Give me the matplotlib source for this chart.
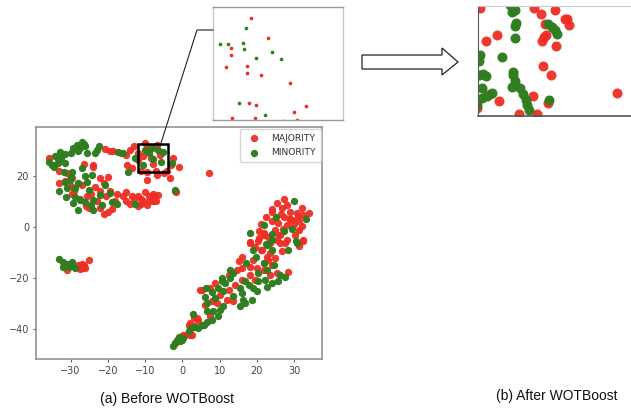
import matplotlib
matplotlib.use('Agg')
import matplotlib.pyplot as plt
from matplotlib.lines import Line2D
from matplotlib.patches import Polygon, Rectangle

RED = '#ee2e24'
GREEN = '#2f7d1f'
GRAY = '#8a8a8a'

# main scatter
major_x = [-35.7, -34.5, -33, -31, -29.5, -24, -20.7, -18.5, -19.5, -16.5, -15, -14, -13, -12, -10, -6.9, -9, -8,
           -14.9, -13.5, -12, -11, -9.5, -6.9, -3.3, -1, -2.4, -4, -7, -9.5, -5, -3, -6, -8.5, -10.5, -26.5, -24,
           -31.5, -30, -33, -29, -27, -25.5, -23.5, -22, -25, -27.5, -24.5, -29.5, -26, -22, -20, -23, -21, -19,
           -18, -20, -21, -22, -19.5, -17.5, -20.5, -16, -15, -13.5, -15, -12, -10.5, -9, -8, -7, -6.5, -11, -9.5,
           -12, -8, -10, -7.5, -11, -9, -13, -14, -2, -1.8,
           7.2,
           -30.9, -27, -26.1, -27.5, -25.2, -26.5, -28, -27,
           -2, 0.3, 0.6, 2.1, 1.7, 3, 4.3, 3.9, 2.1, 3.4, 2.5, 4.8, 7.5, 6.1, 7.9, 9.2, 11.9, 13.7, 10.1, 12.4,
           5.2, 7.5, 8.8, 14.2, 16, 19.5, 12.4, 14.6, 16, 18.2, 18.2, 15.1, 16, 19.1, 21.3, 22.7, 23.6, 26.7, 23.6,
           25.4, 28.5, 18.2, 20.4, 23.6, 26.3, 32.5, 31.2, 20.5, 21.8, 18.2, 20.5, 24.9, 26.3, 31.2, 30.3, 32.5,
           25.4, 27.6, 24, 25.8, 28, 32.1, 29.4, 31.2, 27.2, 24, 29, 30.7, 33.9, 32.5, 26.7, 25.4, 28, 27.2, 32.1,
           22, 23, 27, 29, 19.5, 21, 23, 25, 22, 24, 20, 22, 26, 28, 30, 24, 22.5, 21, 26.5, 29, 31]
major_y = [26.8, 24, 22, 21, 19, 23.5, 30.4, 29.7, 29.8, 29, 28, 30, 31.5, 29, 32.6, 32, 31, 24.5,
           24.2, 23, 26, 22, 18.3, 20.3, 19, 23.5, 26.8, 22, 22, 21.5, 21, 24, 28, 27, 27.5, 24.5, 24,
           18, 16, 17, 14, 16.5, 12, 15.5, 19, 7.5, 11, 13, 13, 8, 7.5, 6, 10, 5, 7,
           10, 19.5, 17, 14, 14, 13, 12, 12, 10, 12, 13.5, 12, 10, 12, 10, 10, 12.5, 9, 8.5, 8,
           13, 13.5, 12, 11, 10, 11, 9, 14.2, 13.8,
           21.1,
           -16.8, -14.4, -16.1, -16.5, -12.9, -15, -15, -16,
           -45.5, -42.1, -42.1, -42.1, -38.2, -35.6, -36.3, -35.6, -37.6, -38.9, -42.1, -24.6, -35, -30.4, -29.1, -29.8, -28.5, -29.1, -26.5, -24.6,
           -24.6, -23.9, -22, -22.6, -20.7, -20.7, -18.7, -16.8, -16.1, -15.5, -18.7, -13.5, -11.6, -12.9, -9, -11.6, -10.3, -9.6, -18.7,
           -18.1, -17.8, -6.4, -5.7, -6.4, -6.4, -5.7, -7.4, -1.8, -2.5, -6, -4.4, -1.2, -3.1, -1.2, -3.1, -5,
           -5, -6.4, 2.1, 1.5, 0.8, 0.2, 2.8, 2.1, 4, 5.7, 6, 5.4, 5.4, 4.7, 7.3, 9.3, 8.6, 11, 7.3,
           -3, -4, -1, 3, -8, -9, -13, -12, -14, -15, -16, -17, -3, -5, 1, 7, 4, 1, 5, 3, 4]
minor_x = [-27, -28.4, -27.5, -26.1, -29.3, -28, -26.5, -25.5, -30, -22.5, -23.4, -22.8, -32.8, -31.5, -33.5, -34.2, -35.1,
           -33.3, -31.5, -35.8, -34.5, -32.5, -31.9, -29.7, -27, -26.1, -24.3, -30.1, -28.8, -25.7, -31.5, -33, -31,
           -25.2, -31.3, -28.8, -29.3, -27.9, -26.1, -23.9, -23.9, -21.5, -22.1, -20.7, -19.4, -19, -17.6, -30, -28,
           -27.5, -24.5, -17.2, -16, -12.7, -10, -8.2, -5.1, -9, -6.5, -7.9, -5.8, -10.6, -2.8, -14.6, -1.9, -12.8,
           -33, -32, -31, -30, -29.5, -32, -28.8, -30.5,
           -2.4, -1.9, -1.5, -1, -0.6, -0.1, 0.3, 2.8, 1.7, 2.1, 3.2, 4.3, 5.2, 5.7, 6.6, 7.9, 6.6, 8.3, 9.7, 11, 10.1,
           6.6, 6.1, 8.8, 7.9, 6.4, 9.7, 11, 10.6, 11.5, 12.8, 13.7, 12.8, 13.7, 10.6, 15.5, 16.9, 16, 15.5, 16.9,
           18.6, 16.4, 17.8, 19.1, 20, 20.4, 22.2, 22.7, 24, 25.8, 27.6, 26.3, 20.4, 17.1, 21.8, 22.7, 24.5, 19.8,
           18.9, 22.7, 24.2, 28.5, 30.7, 30.1, 25.2, 33.3, 21.8, 18.2, 24, 27.4, 29.5, 24, 22.5, 30.6]
minor_y = [33.3, 32, 30.7, 31.4, 30.7, 29.5, 32.5, 29, 29, 31.4, 28.8, 30, 29.4, 28.5, 26.5, 27.5, 24.2,
           24.9, 24.9, 25.5, 23.5, 27, 21.6, 21.6, 22.9, 19.7, 20.3, 18.3, 15.1, 17.7, 17.7, 14, 15.1,
           14.5, 11.8, 11.8, 9.2, 6.4, 9.6, 10.6, 6.7, 8.6, 12.5, 16.4, 13.2, 9.9, 9.1, 19.5, 17,
           10.5, 8.5, 29.1, 28.7, 26.8, 30, 30.7, 29.4, 29, 30, 26.4, 25.5, 24.2, 24.8, 21.5, 14.5, 8.9,
           -12.5, -13.9, -14.5, -14.7, -13.8, -15.5, -16.1, -15.5,
           -46.4, -45.4, -44.1, -43, -44.7, -44.1, -43.4, -34, -40.8, -40, -39, -39.5, -38.5, -38.2, -37, -36.3, -33, -33, -35, -30.8, -32.4,
           -29.8, -27.2, -27.8, -25.6, -23.7, -23.9, -25.2, -21.3, -22, -20, -26.9, -17, -18.1, -20, -23.9, -21, -25.9, -30.8, -29.8,
           -28.5, -28.5, -22.6, -23.9, -25.2, -21.3, -20.7, -23.3, -22, -21.3, -19.4, -18.7, -18.1, -14.2, -14.2, -16.8, -14.8, -11.6,
           -9, -7, -9, -9, -6.4, 10.2, 4, 3.1, 0.8, -2.2, -2.7, -1.5, -0.9, -5, -6.7, -5.7]

# left crop, axes fractions
inset_major_x = [.296, .422, .136, .141, .100, .260, .260, .370, .591, .278, .332, .717, .625, .147, .324, .543, .645]
inset_major_y = [.905, .725, .639, .574, .473, .476, .416, .402, .328, .148, .133, .121, .068, .021, .021, -.009, 0]
inset_minor_x = [.252, .057, .118, .234, .242, .450, .334, .524, .203, .401]
inset_minor_y = [.817, .675, .675, .683, .627, .601, .548, .536, .154, .047]

# right crop, axes fractions
after_major_x = [.013, .366, .414, .505, .580, .595, .569, .440, .122, .052, .444, .431, .418, .512, .423, .477,
                 .908, .357, .135, .458, .268, .386, .078, -.009]
after_major_y = [.985, .985, .931, .961, .880, .831, .886, .840, .738, .678, .735, .714, .678, .639, .455, .373,
                 .211, .178, .133, .117, .018, .018, .202, .072]
after_minor_x = [.242, .220, .209, .246, .242, .242, .460, .481, .503, .519, .013, .009, .155, .231, .231, .035, .052, .009,
                 .242, .220, .275, .292, .024, .089, .057, .024, .314, .322, .333, .462, -.004]
after_minor_y = [.961, .943, 1.006, .846, .816, .708, .834, .810, .780, .741, .554, .500, .536, .404, .373, .380, .367, .373,
                 .319, .268, .253, .202, .253, .208, .178, .163, .148, .102, .057, .142, .102]

W, H = 631, 408


def px_axes(left, top, right, bottom):
    return fig.add_axes([left / W, 1 - bottom / H, (right - left) / W, (bottom - top) / H])


fig = plt.figure(figsize=(W / 100, H / 100), dpi=100)

ax = px_axes(36, 127, 322, 359)
ax.scatter(major_x, major_y, s=28, c=RED, alpha=0.95, linewidths=0, label='MAJORITY')
ax.scatter(minor_x, minor_y, s=28, c=GREEN, alpha=0.98, linewidths=0, label='MINORITY')
ax.set_xlim(-39.3, 37.5)
ax.set_ylim(-51.6, 39)
ax.set_xticks([-30, -20, -10, 0, 10, 20, 30])
ax.set_yticks([-40, -20, 0, 20])
ax.set_xticklabels(['\u221230', '\u221220', '\u221210', '0', '10', '20', '30'])
ax.set_yticklabels(['\u221240', '\u221220', '0', '20'])
ax.tick_params(labelsize=7, length=2.5, width=0.7, color='#555555', labelcolor='#444444', pad=2.5)
for s in ax.spines.values():
    s.set_color(GRAY)
    s.set_linewidth(1.1)
ax.legend(loc='upper right', fontsize=6.6, labelcolor='#333333', handletextpad=0.9, borderpad=0.5,
          bbox_to_anchor=(0.995, 0.99), borderaxespad=0, labelspacing=0.55)
ax.add_patch(Rectangle((-11.9, 21.5), 8, 11, fill=False, ec='black', lw=1.8, zorder=5))

inset = px_axes(213, 7, 343, 120)
inset.scatter(inset_major_x, inset_major_y, s=7, c=RED, linewidths=0)
inset.scatter(inset_minor_x, inset_minor_y, s=7, c=GREEN, linewidths=0)
inset.set_xlim(0, 1)
inset.set_ylim(0, 1)
inset.set_xticks([])
inset.set_yticks([])
for s in inset.spines.values():
    s.set_linewidth(1)
    s.set_color('#9a9a9a')
inset.spines['left'].set_color('#c8c8c8')
inset.spines['right'].set_color('#c8c8c8')

after = px_axes(478, 6, 631, 116)
after.scatter(after_major_x, after_major_y, s=52, c=RED, linewidths=0, alpha=0.95)
after.scatter(after_minor_x, after_minor_y, s=52, c=GREEN, linewidths=0, alpha=0.98)
after.set_xlim(0, 1)
after.set_ylim(0, 1)
after.set_xticks([])
after.set_yticks([])
after.spines['right'].set_visible(False)
after.spines['top'].set_color('#c8c8c8')
after.spines['left'].set_color('#555555')
after.spines['bottom'].set_color('#555555')
after.spines['bottom'].set_linewidth(1.2)

# zoom connector
fig.add_artist(Line2D([161 / W, 197 / W, 213 / W], [1 - 143 / H, 1 - 30 / H, 1 - 30 / H], color='#222222', lw=0.8))

# hollow block arrow between the crops
arrow_px = [(362, 55), (442, 55), (442, 48), (458, 62), (442, 75), (442, 69), (362, 69)]
fig.add_artist(Polygon([(x / W, 1 - y / H) for x, y in arrow_px], closed=True, fc='white', ec='#222222',
                       lw=0.9, transform=fig.transFigure))

fig.text(167 / W, 1 - 399 / H, '(a) Before WOTBoost', ha='center', va='center', fontsize=10,
         family='Liberation Sans', color='#111111')
fig.text(557 / W, 1 - 396 / H, '(b) After WOTBoost', ha='center', va='center', fontsize=10,
         family='Liberation Sans', color='#111111')

fig.savefig('out.png', dpi=100)
